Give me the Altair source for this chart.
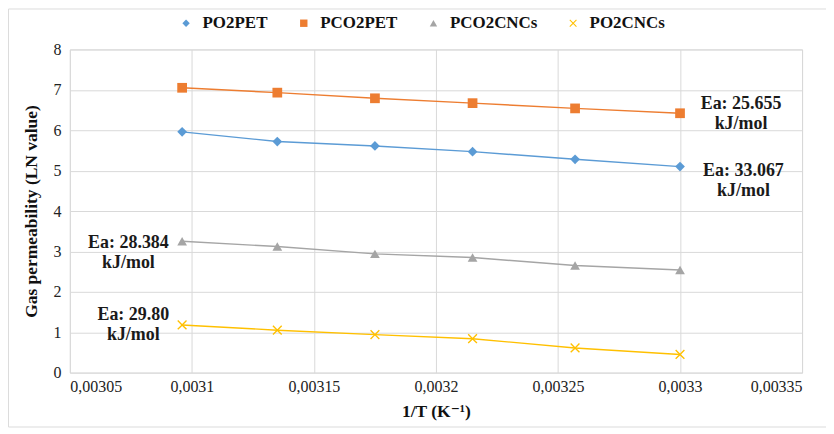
import altair as alt
import pandas as pd

# 1/T values (K^-1) for T = 323, 319, 315, 311, 307, 303 K
inv_t = [0.003096, 0.003135, 0.003175, 0.003215, 0.003257, 0.003300]

series_names = ["PO2PET", "PCO2PET", "PCO2CNCs", "PO2CNCs"]
po2pet = [5.96, 5.72, 5.61, 5.47, 5.28, 5.10]
pco2pet = [7.05, 6.93, 6.79, 6.67, 6.54, 6.42]
pco2cncs = [3.25, 3.12, 2.94, 2.85, 2.65, 2.54]
po2cncs = [1.18, 1.05, 0.94, 0.84, 0.61, 0.45]

colors = ["#5B9BD5", "#ED7D31", "#A5A5A5", "#FFC000"]
x_path = "M-1,-0.8L-0.8,-1L0,-0.2L0.8,-1L1,-0.8L0.2,0L1,0.8L0.8,1L0,0.2L-0.8,1L-1,0.8L-0.2,0Z"
shapes = ["diamond", "square", "triangle-up", x_path]

x_ticks = [0.00305, 0.0031, 0.00315, 0.0032, 0.00325, 0.0033, 0.00335]
y_ticks = [0, 1, 2, 3, 4, 5, 6, 7, 8]

ann_text = ["Ea: 25.655\nkJ/mol", "Ea: 33.067\nkJ/mol", "Ea: 28.384\nkJ/mol", "Ea: 29.80\nkJ/mol"]
ann_x = [0.003325, 0.003326, 0.003074, 0.003076]
ann_y = [6.64, 4.99, 3.21, 1.43]

rows = []
for name, vals in zip(series_names, [po2pet, pco2pet, pco2cncs, po2cncs]):
    for xv, yv in zip(inv_t, vals):
        rows.append({"series": name, "x": xv, "y": yv})
df = pd.DataFrame(rows)
ann = pd.DataFrame({"x": ann_x, "y": ann_y, "t": ann_text})

FONT = "Liberation Serif, Times New Roman, DejaVu Serif, serif"

xs = alt.Scale(domain=[0.00305, 0.00335], nice=False, zero=False)
ys = alt.Scale(domain=[0, 8], nice=False)
cs = alt.Scale(domain=series_names, range=colors)
ss = alt.Scale(domain=series_names, range=shapes)

leg = alt.Legend(orient="none", direction="horizontal",
                 legendX=108, legendY=-35, title=None)

x_enc = alt.X("x:Q", scale=xs, title="1/T (K⁻¹)",
              axis=alt.Axis(values=x_ticks,
                            labelExpr="replace(format(datum.value, '.5~f'), '.', ',')"))
y_enc = alt.Y("y:Q", scale=ys, title="Gas permeability (LN value)",
              axis=alt.Axis(values=y_ticks, format="d"))

frame = alt.Chart(pd.DataFrame({"a": [0]})).mark_rect(
    fill=None, stroke="#dcdcdc", strokeWidth=1, clip=False
).encode(x=alt.value(-61.5), x2=alt.value(800), y=alt.value(-40.5), y2=alt.value(378.5))

lines = alt.Chart(df).mark_line(strokeWidth=1.4).encode(
    x=x_enc, y=y_enc,
    color=alt.Color("series:N", scale=cs, title=None, legend=leg),
    detail="series:N",
)

points = alt.Chart(df).mark_point(filled=True, size=95, opacity=1).encode(
    x="x:Q", y="y:Q",
    color=alt.Color("series:N", scale=cs, title=None, legend=leg),
    shape=alt.Shape("series:N", scale=ss, title=None, legend=leg),
)

texts = alt.Chart(ann).mark_text(
    font=FONT, fontSize=18, fontWeight="bold", lineBreak="\n", lineHeight=20,
    align="center", baseline="middle", color="#1a1a1a"
).encode(x="x:Q", y="y:Q", text="t:N")

chart = alt.layer(frame, lines, points, texts).properties(
    width=734, height=324,
    autosize=alt.AutoSizeParams(type="none"),
    padding={"left": 62, "top": 41, "right": 24, "bottom": 55},
).configure_view(
    stroke="#d9d9d9", strokeWidth=1
).configure_axis(
    grid=True, gridColor="#d9d9d9", gridWidth=1,
    domain=False, ticks=False,
    labelFont=FONT, labelFontSize=16, labelColor="#222222",
    titleFont=FONT, titleFontSize=17.5, titleFontWeight="bold", titleColor="#111111",
).configure_axisX(
    labelPadding=6, titlePadding=8,
).configure_axisY(
    labelPadding=9, titlePadding=12,
).configure_legend(
    labelFont=FONT, labelFontSize=17, labelFontWeight="bold", labelColor="#111111",
    symbolSize=55, symbolStrokeWidth=0, columnPadding=27, labelOffset=8, padding=0,
    symbolOpacity=1,
)

chart.save("out.html", embed_options={"renderer": "svg", "actions": False})
